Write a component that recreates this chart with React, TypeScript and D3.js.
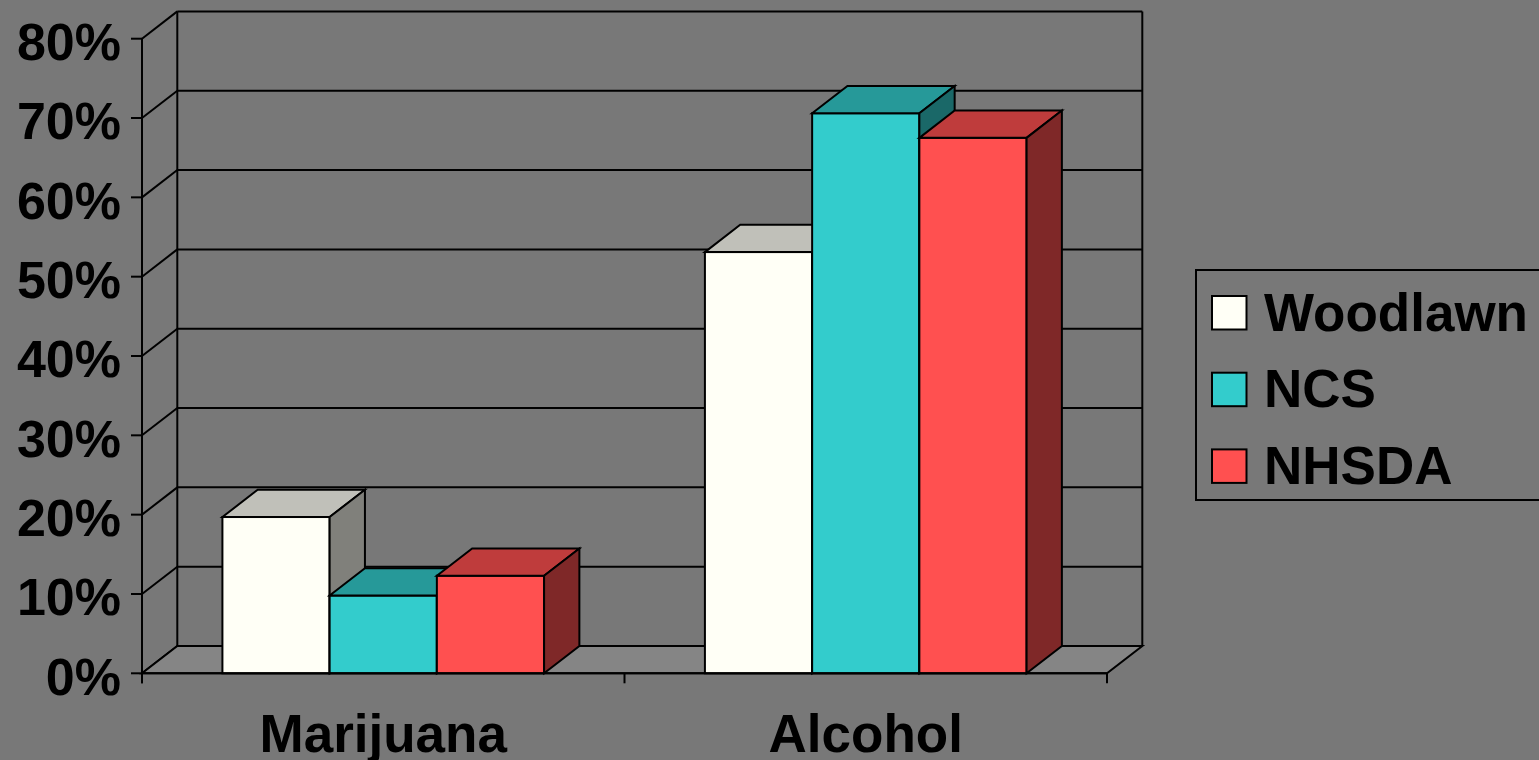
import React from 'react';
import * as d3 from 'd3';

// Survey results: share of respondents reporting use, by substance and study
const categories = ['Marijuana', 'Alcohol'];
const seriesNames = ['Woodlawn', 'NCS', 'NHSDA'];
const woodlawn = [0.197, 0.531];
const ncs = [0.098, 0.706];
const nhsda = [0.123, 0.675];
const yTicks = [0, 0.1, 0.2, 0.3, 0.4, 0.5, 0.6, 0.7, 0.8];

const seriesValues = [woodlawn, ncs, nhsda];

// front / top / side shading for each series
const palette = [
  { front: '#FFFFF6', top: '#C0C0B9', side: '#80807B' },
  { front: '#33CCCC', top: '#269999', side: '#1A6868' },
  { front: '#FF5050', top: '#BF3C3C', side: '#7F2828' },
];

const W = 1539;
const H = 760;
const BG = '#787878';
const FLOOR = '#858585';
const FONT = '"Liberation Sans", Arial, sans-serif';

export default function App() {
  const left = 142;
  const right = 1107;
  const dx = 35.3;
  const dy = -27.3;

  const y = d3.scaleLinear().domain([0, 0.8]).range([673.3, 38.7]);
  const x0 = d3.scaleBand<string>().domain(categories).range([left, right]).padding(0);
  const x1 = d3
    .scaleBand<string>()
    .domain(seriesNames)
    .range([0, x0.bandwidth()])
    .paddingInner(0)
    .paddingOuter(0.75);

  const y0 = y(0);
  const yTop = y(0.8);
  const pts = (arr: [number, number][]) => arr.map((p) => p.join(',')).join(' ');

  const bars: React.ReactNode[] = [];
  categories.forEach((cat, ci) => {
    seriesNames.forEach((s, si) => {
      const v = seriesValues[si][ci];
      const xa = (x0(cat) as number) + (x1(s) as number);
      const w = x1.bandwidth();
      const yv = y(v);
      const c = palette[si];
      bars.push(
        <g key={`${cat}-${s}`} stroke="#000" strokeWidth={2} strokeLinejoin="miter">
          <rect x={xa} y={yv} width={w} height={y0 - yv} fill={c.front} />
          <polygon
            points={pts([
              [xa, yv],
              [xa + dx, yv + dy],
              [xa + w + dx, yv + dy],
              [xa + w, yv],
            ])}
            fill={c.top}
          />
          <polygon
            points={pts([
              [xa + w, yv],
              [xa + w + dx, yv + dy],
              [xa + w + dx, y0 + dy],
              [xa + w, y0],
            ])}
            fill={c.side}
          />
        </g>
      );
    });
  });

  const catTicks = [left, ...categories.map((c) => (x0(c) as number) + x0.bandwidth())];

  return (
    <svg
      width={W}
      height={H}
      style={{ position: 'absolute', left: 0, top: 0, display: 'block' }}
      fontFamily={FONT}
    >
      <rect x={0} y={0} width={W} height={H} fill={BG} />

      {/* back wall gridlines and edges */}
      <g stroke="#000" strokeWidth={2}>
        {yTicks.map((t) => (
          <line key={`g${t}`} x1={left + dx} x2={right + dx} y1={y(t) + dy} y2={y(t) + dy} />
        ))}
        <line x1={left + dx} x2={left + dx} y1={yTop + dy} y2={y0 + dy} />
        <line x1={right + dx} x2={right + dx} y1={yTop + dy} y2={y0 + dy} />
        {/* side wall gridlines */}
        {yTicks.map((t) => (
          <line key={`s${t}`} x1={left} x2={left + dx} y1={y(t)} y2={y(t) + dy} />
        ))}
      </g>

      {/* floor */}
      <polygon
        points={pts([
          [left, y0],
          [left + dx, y0 + dy],
          [right + dx, y0 + dy],
          [right, y0],
        ])}
        fill={FLOOR}
        stroke="#000"
        strokeWidth={2}
      />

      {bars}

      {/* value axis and category axis */}
      <g stroke="#000" strokeWidth={2}>
        <line x1={left} x2={left} y1={yTop} y2={y0 + 10} />
        {yTicks.map((t) => (
          <line key={`t${t}`} x1={left - 11} x2={left} y1={y(t)} y2={y(t)} />
        ))}
        <line x1={left} x2={right} y1={y0} y2={y0} />
        {catTicks.map((cx, i) => (
          <line key={`c${i}`} x1={cx} x2={cx} y1={y0} y2={y0 + 10} />
        ))}
      </g>

      <g fontWeight="bold" fill="#000">
        {yTicks.map((t) => (
          <text key={`l${t}`} x={121} y={y(t) + 21.4} textAnchor="end" fontSize={52}>
            {d3.format('.0%')(t)}
          </text>
        ))}
        {categories.map((c) => (
          <text
            key={c}
            x={(x0(c) as number) + x0.bandwidth() / 2}
            y={751.5}
            textAnchor="middle"
            fontSize={53}
          >
            {c}
          </text>
        ))}
      </g>

      {/* legend */}
      <g>
        <rect x={1196} y={270} width={380} height={230} fill={BG} stroke="#000" strokeWidth={2} />
        {seriesNames.map((s, i) => (
          <g key={s} transform={`translate(0, ${i * 76.7})`}>
            <rect
              x={1212}
              y={296}
              width={34.5}
              height={33.5}
              fill={palette[i].front}
              stroke="#000"
              strokeWidth={2}
            />
            <text x={1264} y={330.7} fontSize={53} fontWeight="bold" fill="#000">
              {s}
            </text>
          </g>
        ))}
      </g>
    </svg>
  );
}
